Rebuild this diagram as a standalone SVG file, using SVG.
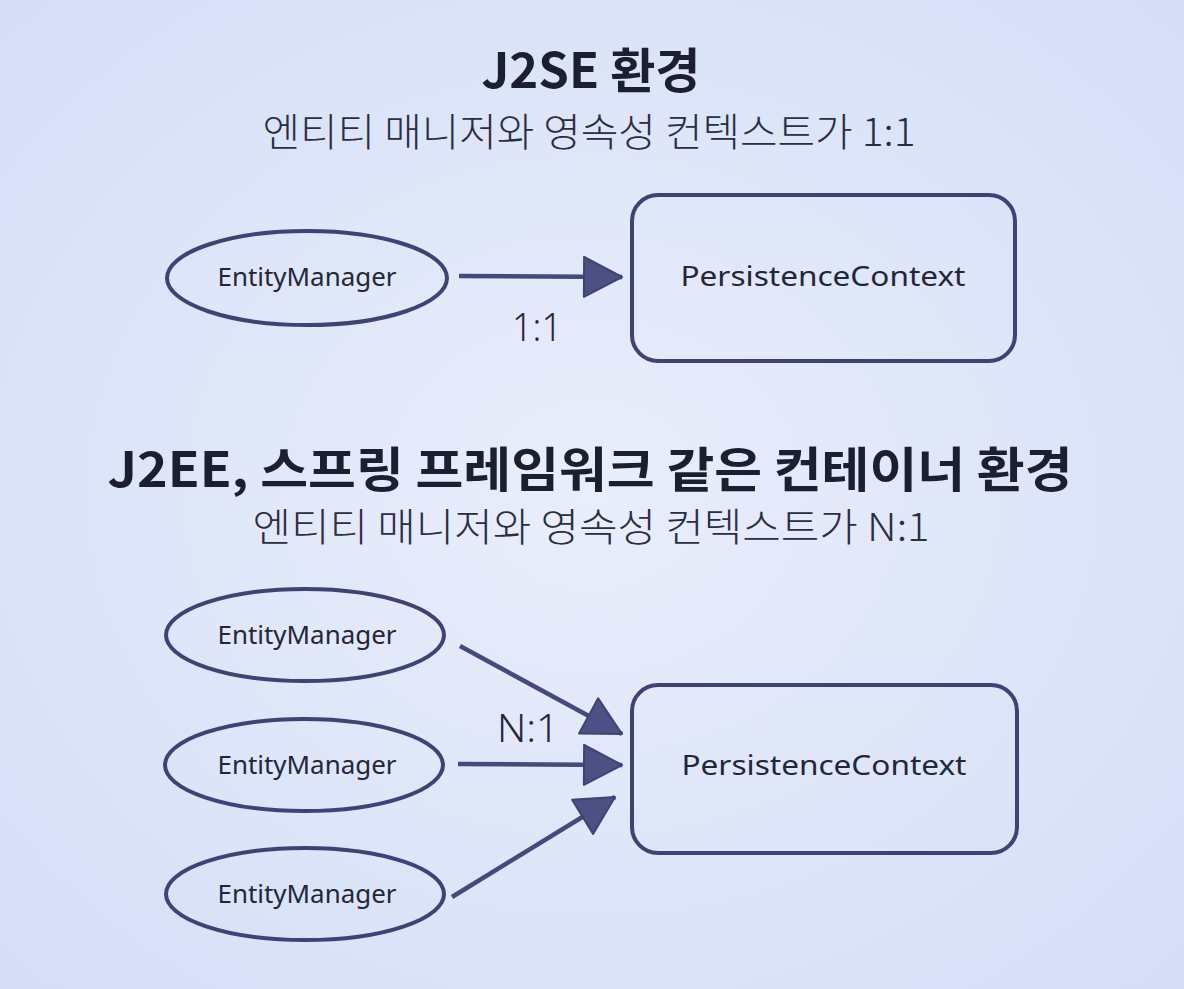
<svg xmlns="http://www.w3.org/2000/svg" width="1184" height="989" viewBox="0 0 1184 989">
  <defs>
    <radialGradient id="bg" cx="50%" cy="50%" r="75%">
      <stop offset="0" stop-color="#e9eefb"/>
      <stop offset="1" stop-color="#d3ddf6"/>
    </radialGradient>
    <marker id="arrow" markerUnits="userSpaceOnUse" markerWidth="42" markerHeight="44" refX="40" refY="22" orient="auto" viewBox="0 0 42 44">
      <path d="M2,2 L40,22 L2,42 Z" fill="#4b5185" stroke="#3d4378" stroke-width="2" stroke-linejoin="round"/>
    </marker>
    <style>
      .title { font-family: "Noto Sans CJK KR", "Noto Sans", sans-serif; font-weight: 700; font-size: 48px; fill: #1c1f30; text-anchor: middle; }
      .sub { font-family: "Noto Sans CJK KR", "Noto Sans", sans-serif; font-weight: 300; font-size: 39px; fill: #2a2d45; text-anchor: middle; }
      .ell { fill: none; stroke: #3d4378; stroke-width: 4; }
      .box { fill: none; stroke: #3d4378; stroke-width: 4; }
      .lbl { font-family: "Noto Sans", "Noto Sans CJK KR", sans-serif; font-size: 25px; fill: #23263a; text-anchor: middle; }
      .big { font-family: "Noto Sans", "Noto Sans CJK KR", sans-serif; font-size: 28px; fill: #23263a; text-anchor: middle; }
      .ratio { font-family: "Noto Sans", "Noto Sans CJK KR", sans-serif; font-weight: 300; font-size: 38px; fill: #23263a; }
      .conn { stroke: #434a80; stroke-width: 4.5; fill: none; marker-end: url(#arrow); }
    </style>
  </defs>

  <rect x="0" y="0" width="1184" height="989" fill="url(#bg)"/>

  <text class="title" x="591" y="88" textLength="219" lengthAdjust="spacingAndGlyphs">J2SE 환경</text>
  <text class="sub" x="589" y="146" textLength="653" lengthAdjust="spacingAndGlyphs">엔티티 매니저와 영속성 컨텍스트가 1:1</text>

  <text class="title" x="590" y="487" textLength="965" lengthAdjust="spacingAndGlyphs">J2EE, 스프링 프레임워크 같은 컨테이너 환경</text>
  <text class="sub" x="591" y="541" textLength="677" lengthAdjust="spacingAndGlyphs">엔티티 매니저와 영속성 컨텍스트가 N:1</text>

  <g id="connectors">
    <line class="conn" x1="459" y1="276" x2="622" y2="277"/>
    <line class="conn" x1="460" y1="646" x2="622" y2="734"/>
    <line class="conn" x1="458" y1="764" x2="622" y2="765"/>
    <line class="conn" x1="452" y1="897" x2="615" y2="797"/>
    <text class="ratio" x="512" y="341" textLength="50" lengthAdjust="spacingAndGlyphs">1:1</text>
    <text class="ratio" x="497" y="742" textLength="62" lengthAdjust="spacingAndGlyphs">N:1</text>
  </g>

  <g id="em1">
    <ellipse class="ell" cx="307" cy="278" rx="140" ry="47"/>
    <text class="lbl" x="307" y="286" textLength="179" lengthAdjust="spacingAndGlyphs">EntityManager</text>
  </g>
  <g id="pc1">
    <rect class="box" x="632" y="195" width="383" height="166" rx="26"/>
    <text class="big" x="823" y="286" textLength="285" lengthAdjust="spacingAndGlyphs">PersistenceContext</text>
  </g>

  <g id="em2">
    <ellipse class="ell" cx="305" cy="635" rx="139" ry="46"/>
    <text class="lbl" x="307" y="644" textLength="179" lengthAdjust="spacingAndGlyphs">EntityManager</text>
  </g>
  <g id="em3">
    <ellipse class="ell" cx="304" cy="765" rx="139" ry="46"/>
    <text class="lbl" x="307" y="774" textLength="179" lengthAdjust="spacingAndGlyphs">EntityManager</text>
  </g>
  <g id="em4">
    <ellipse class="ell" cx="305" cy="894" rx="139" ry="46"/>
    <text class="lbl" x="307" y="903" textLength="179" lengthAdjust="spacingAndGlyphs">EntityManager</text>
  </g>
  <g id="pc2">
    <rect class="box" x="632" y="685" width="385" height="168" rx="26"/>
    <text class="big" x="824" y="775" textLength="285" lengthAdjust="spacingAndGlyphs">PersistenceContext</text>
  </g>
</svg>
